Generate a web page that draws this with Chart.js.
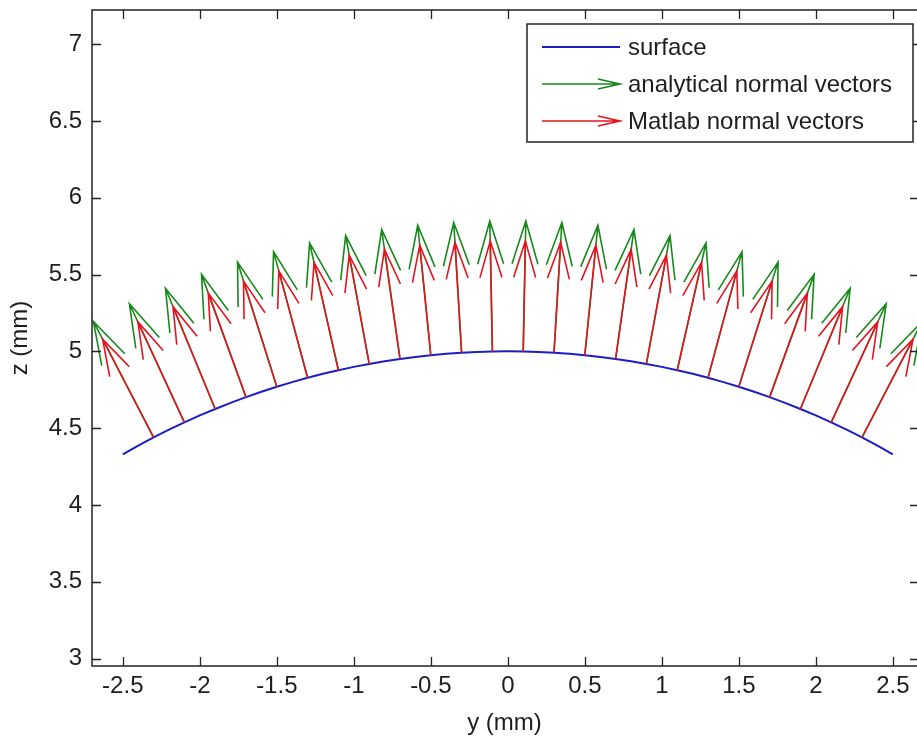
<!DOCTYPE html>
<html>
<head>
<meta charset="utf-8">
<title>normal vectors</title>
<script src="https://cdn.jsdelivr.net/npm/chart.js@4.4.1/dist/chart.umd.min.js"></script>
<style>
  html, body { margin: 0; padding: 0; background: #fff; }
</style>
</head>
<body>
<canvas id="grafico" width="917" height="738"></canvas>
<script>
// perfil da superficie: y (mm) e z (mm)
const surfY = [-2.5, -2.4, -2.3, -2.2, -2.1, -2.0, -1.9, -1.8, -1.7, -1.6, -1.5, -1.4, -1.3, -1.2, -1.1, -1.0, -0.9, -0.8, -0.7, -0.6, -0.5, -0.4, -0.3, -0.2, -0.1,
  0, 0.1, 0.2, 0.3, 0.4, 0.5, 0.6, 0.7, 0.8, 0.9, 1.0, 1.1, 1.2, 1.3, 1.4, 1.5, 1.6, 1.7, 1.8, 1.9, 2.0, 2.1, 2.2, 2.3, 2.4, 2.5]
const surfZ = [4.330, 4.386, 4.440, 4.490, 4.538, 4.583, 4.625, 4.665, 4.702, 4.737, 4.770, 4.800, 4.828, 4.854, 4.877, 4.899, 4.918, 4.936, 4.951, 4.964, 4.975, 4.984, 4.991, 4.996, 4.999,
  5.000, 4.999, 4.996, 4.991, 4.984, 4.975, 4.964, 4.951, 4.936, 4.918, 4.899, 4.877, 4.854, 4.828, 4.800, 4.770, 4.737, 4.702, 4.665, 4.625, 4.583, 4.538, 4.490, 4.440, 4.386, 4.330]

// pontos de partida das setas (em cima da superficie)
const baseY = [-2.3, -2.1, -1.9, -1.7, -1.5, -1.3, -1.1, -0.9, -0.7, -0.5, -0.3, -0.1, 0.1, 0.3, 0.5, 0.7, 0.9, 1.1, 1.3, 1.5, 1.7, 1.9, 2.1, 2.3]
const baseZ = [4.440, 4.538, 4.625, 4.702, 4.770, 4.828, 4.877, 4.918, 4.951, 4.975, 4.991, 4.999, 4.999, 4.991, 4.975, 4.951, 4.918, 4.877, 4.828, 4.770, 4.702, 4.625, 4.538, 4.440]

// componentes das setas (verde = analitico, vermelho = Matlab)
const analitU = [-0.391, -0.357, -0.323, -0.289, -0.255, -0.221, -0.187, -0.153, -0.119, -0.085, -0.051, -0.017, 0.017, 0.051, 0.085, 0.119, 0.153, 0.187, 0.221, 0.255, 0.289, 0.323, 0.357, 0.391]
const analitV = [0.755, 0.772, 0.786, 0.799, 0.811, 0.821, 0.829, 0.836, 0.842, 0.846, 0.848, 0.850, 0.850, 0.848, 0.846, 0.842, 0.836, 0.829, 0.821, 0.811, 0.799, 0.786, 0.772, 0.755]
const matlabU = [-0.331, -0.302, -0.274, -0.245, -0.216, -0.187, -0.158, -0.130, -0.101, -0.072, -0.043, -0.014, 0.014, 0.043, 0.072, 0.101, 0.130, 0.158, 0.187, 0.216, 0.245, 0.274, 0.302, 0.331]
const matlabV = [0.639, 0.654, 0.666, 0.677, 0.687, 0.696, 0.702, 0.708, 0.713, 0.716, 0.719, 0.720, 0.720, 0.719, 0.716, 0.713, 0.708, 0.702, 0.696, 0.687, 0.677, 0.666, 0.654, 0.639]

const xTicks = [-2.5, -2, -1.5, -1, -0.5, 0, 0.5, 1, 1.5, 2, 2.5]
const yTicks = [3, 3.5, 4, 4.5, 5, 5.5, 6, 6.5, 7]

const fonte = { family: "'Liberation Sans', Arial, sans-serif", size: 24 }
const corTexto = '#1e1e1e'

// monta as setas do jeito do quiver: haste + duas farpas, separadas por null
function setas(u, v) {
    const alpha = 0.33, beta = 0.3
    let pts = []
    for (let i = 0; i < baseY.length; i++) {
        let x0 = baseY[i], y0 = baseZ[i]
        let x1 = x0 + u[i], y1 = y0 + v[i]
        pts.push({ x: x0, y: y0 }, { x: x1, y: y1 }, { x: null, y: null })
        pts.push({ x: x1 - alpha * (u[i] + beta * v[i]), y: y1 - alpha * (v[i] - beta * u[i]) })
        pts.push({ x: x1, y: y1 })
        pts.push({ x: x1 - alpha * (u[i] - beta * v[i]), y: y1 - alpha * (v[i] + beta * u[i]) })
        pts.push({ x: null, y: null })
    }
    return pts
}

// moldura com ticks para dentro, estilo Matlab (lado direito fica fora da imagem)
const moldura = {
    id: 'moldura',
    afterDatasetsDraw(chart) {
        const { ctx, chartArea: a, scales } = chart
        const tl = 9
        const dir = a.right + 2
        ctx.save()
        ctx.strokeStyle = '#222'
        ctx.lineWidth = 1.5
        ctx.beginPath()
        ctx.moveTo(dir, a.top); ctx.lineTo(a.left, a.top)
        ctx.lineTo(a.left, a.bottom); ctx.lineTo(dir, a.bottom)
        ctx.stroke()
        ctx.beginPath()
        scales.x.ticks.forEach(t => {
            let px = Math.round(scales.x.getPixelForValue(t.value)) + 0.5
            ctx.moveTo(px, a.bottom); ctx.lineTo(px, a.bottom - tl)
            ctx.moveTo(px, a.top); ctx.lineTo(px, a.top + tl)
        })
        scales.y.ticks.forEach(t => {
            let py = Math.round(scales.y.getPixelForValue(t.value)) + 0.5
            ctx.moveTo(a.left, py); ctx.lineTo(a.left + tl, py)
            ctx.moveTo(dir, py); ctx.lineTo(dir - tl, py)
        })
        ctx.lineWidth = 1.3
        ctx.stroke()
        ctx.restore()
    }
}

// legenda desenhada a mao (as amostras com ponta de seta)
const legenda = {
    id: 'legenda',
    afterDraw(chart) {
        const { ctx, chartArea: a } = chart
        const larg = 386, alt = 118
        const bx = 527, by = a.top + 14
        ctx.save()
        ctx.fillStyle = '#fff'
        ctx.fillRect(bx, by, larg, alt)
        ctx.strokeStyle = '#222'
        ctx.lineWidth = 1.5
        ctx.strokeRect(bx, by, larg, alt)
        ctx.font = fonte.size + 'px ' + fonte.family
        ctx.textBaseline = 'middle'
        chart.data.datasets.forEach((ds, i) => {
            let yy = by + 23 + i * 37
            let x0 = bx + 15, x1 = bx + 93
            ctx.strokeStyle = ds.borderColor
            ctx.lineWidth = ds.borderWidth
            ctx.beginPath()
            ctx.moveTo(x0, yy); ctx.lineTo(x1, yy)
            if (ds.seta) {
                ctx.moveTo(x1 - 22, yy - 5); ctx.lineTo(x1, yy); ctx.lineTo(x1 - 22, yy + 5)
            }
            ctx.stroke()
            ctx.fillStyle = corTexto
            ctx.fillText(ds.label, bx + 101, yy + 1)
        })
        ctx.restore()
    }
}

let ctxGraf = document.getElementById('grafico').getContext('2d')
new Chart(ctxGraf, {
    type: 'scatter',
    data: {
        datasets: [
            {
                label: 'surface',
                data: surfY.map((y, i) => ({ x: y, y: surfZ[i] })),
                showLine: true,
                borderColor: '#1c1cc8',
                borderWidth: 2,
                pointRadius: 0,
                order: 2
            },
            {
                label: 'analytical normal vectors',
                data: setas(analitU, analitV),
                showLine: true,
                spanGaps: false,
                borderColor: '#17891a',
                borderWidth: 1.6,
                pointRadius: 0,
                seta: true,
                order: 1
            },
            {
                label: 'Matlab normal vectors',
                data: setas(matlabU, matlabV),
                showLine: true,
                spanGaps: false,
                borderColor: '#e3141f',
                borderWidth: 1.6,
                pointRadius: 0,
                seta: true,
                order: 0
            }
        ]
    },
    options: {
        responsive: false,
        animation: false,
        layout: { padding: { top: 10, right: 0, left: 0, bottom: 0 } },
        plugins: {
            legend: { display: false },
            tooltip: { enabled: false }
        },
        scales: {
            x: {
                type: 'linear',
                min: -2.7,
                max: 2.657,
                afterBuildTicks: s => { s.ticks = xTicks.map(v => ({ value: v })) },
                afterFit: s => { s.height = 72; s.paddingLeft = 0; s.paddingRight = 0 },
                grid: { display: false, drawTicks: false },
                border: { display: false },
                ticks: { padding: 6, font: fonte, color: corTexto, maxRotation: 0, autoSkip: false, callback: v => String(v) },
                title: { display: true, text: 'y (mm)', font: fonte, color: corTexto, padding: { top: 0, bottom: 0 } }
            },
            y: {
                type: 'linear',
                min: 2.952,
                max: 7.222,
                afterBuildTicks: s => { s.ticks = yTicks.map(v => ({ value: v })) },
                afterFit: s => { s.width = 92; s.paddingTop = 0; s.paddingBottom = 0 },
                grid: { display: false, drawTicks: false },
                border: { display: false },
                ticks: { padding: 10, font: fonte, color: corTexto, autoSkip: false, callback: v => String(v) },
                title: { display: true, text: 'z (mm)', font: fonte, color: corTexto, padding: { top: 6, bottom: 0 } }
            }
        }
    },
    plugins: [moldura, legenda]
})
</script>
</body>
</html>
